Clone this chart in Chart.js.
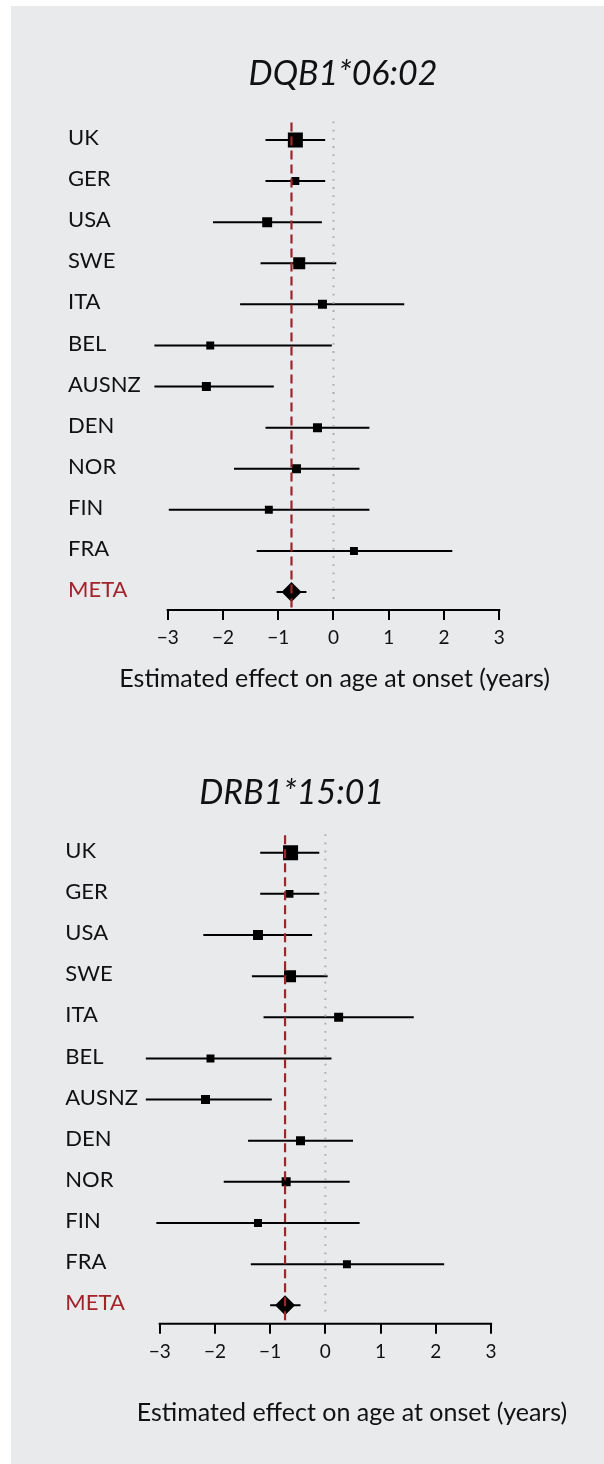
<!DOCTYPE html>
<html><head><meta charset="utf-8">
<script src="https://cdn.jsdelivr.net/npm/chart.js@4.4.1/dist/chart.umd.min.js"></script>
<style>
html,body{margin:0;padding:0;background:#fff;}
body{width:604px;height:1464px;position:relative;overflow:hidden;}
#panel{position:absolute;left:11px;top:6px;right:0;bottom:0;background:#e9eaec;}
.wrap{position:absolute;left:0;width:604px;height:732px;}
#w1{top:0}
#w2{top:732px}
canvas{display:block}
</style></head><body>
<div id="panel"></div>
<div class="wrap" id="w1"><canvas id="c1" width="604" height="732"></canvas></div>
<div class="wrap" id="w2"><canvas id="c2" width="604" height="732"></canvas></div>
<script>
// ---- data ----
const categories = ['UK','GER','USA','SWE','ITA','BEL','AUSNZ','DEN','NOR','FIN','FRA','META'];
const studyWeights = [1.00,0.28,0.44,0.64,0.36,0.28,0.36,0.36,0.36,0.28,0.28];
const tickValues = [-3,-2,-1,0,1,2,3];
const tickLabels = ['\u22123','\u22122','\u22121','0','1','2','3'];
const axisTitle = 'Estimated effect on age at onset (years)';

const dqbTitle = 'DQB1*06:02';
const dqbEst = [-0.69,-0.69,-1.20,-0.62,-0.20,-2.23,-2.30,-0.29,-0.67,-1.17,0.37,-0.76];
const dqbLo  = [-1.23,-1.23,-2.18,-1.32,-1.69,-3.24,-3.24,-1.23,-1.80,-2.98,-1.39,-1.03];
const dqbHi  = [-0.15,-0.15,-0.21,0.05,1.28,-0.03,-1.08,0.65,0.47,0.65,2.15,-0.49];

const drbTitle = 'DRB1*15:01';
const drbEst = [-0.63,-0.65,-1.22,-0.64,0.24,-2.08,-2.17,-0.45,-0.71,-1.22,0.39,-0.73];
const drbLo  = [-1.18,-1.18,-2.21,-1.33,-1.12,-3.25,-3.25,-1.40,-1.84,-3.06,-1.35,-1.00];
const drbHi  = [-0.11,-0.11,-0.24,0.04,1.60,0.11,-0.97,0.50,0.44,0.62,2.15,-0.45];

const RED = '#a2232a';
const INK = '#111111';
const FONT = 'Lato';

const decor = {
  id: 'decor',
  afterDatasetsDraw(chart, args, opts) {
    const {ctx, chartArea, scales: {x, y}} = chart;
    ctx.save();
    const x0 = x.getPixelForValue(0);
    ctx.strokeStyle = '#a9a9a9';
    ctx.lineWidth = 1.8;
    ctx.setLineDash([1.8, 6.4]);
    ctx.beginPath();
    ctx.moveTo(x0, chartArea.top);
    ctx.lineTo(x0, y.getPixelForValue(categories.length - 0.75));
    ctx.stroke();
    const xm = x.getPixelForValue(opts.meta);
    ctx.strokeStyle = RED;
    ctx.lineWidth = 2.2;
    ctx.setLineDash([9, 5]);
    ctx.beginPath();
    ctx.moveTo(xm, chartArea.top + 1);
    ctx.lineTo(xm, chartArea.bottom);
    ctx.stroke();
    ctx.restore();
  },
  afterDraw(chart, args, opts) {
    const {ctx, chartArea, scales: {x}} = chart;
    ctx.save();
    ctx.strokeStyle = '#000';
    ctx.lineWidth = 2;
    ctx.beginPath();
    ctx.moveTo(x.getPixelForValue(tickValues[0]) - 1, chartArea.bottom);
    ctx.lineTo(x.getPixelForValue(tickValues[tickValues.length - 1]) + 1, chartArea.bottom);
    ctx.stroke();
    ctx.fillStyle = INK;
    ctx.textAlign = 'center';
    ctx.textBaseline = 'alphabetic';
    ctx.font = 'italic 34px ' + FONT;
    ctx.fillText(opts.title, opts.titleX, opts.titleY);
    ctx.font = '25px ' + FONT;
    ctx.fillText(axisTitle, opts.axisX, opts.axisY);
    ctx.restore();
  }
};

function makeChart(id, g) {
  const n = categories.length;
  const ciData = [];
  g.lo.forEach((lo, i) => {
    ciData.push({x: lo, y: i}, {x: g.hi[i], y: i}, {x: g.hi[i], y: null});
  });
  const studyPts = g.est.slice(0, n - 1).map((v, i) => ({x: v, y: i}));
  const metaPt = [{x: g.est[n - 1], y: n - 1}];
  return new Chart(document.getElementById(id), {
    type: 'scatter',
    data: {
      datasets: [
        {
          data: studyPts,
          pointStyle: 'rect',
          pointRadius: (c) => 15 * Math.sqrt(studyWeights[c.dataIndex]) / Math.SQRT2,
          pointBackgroundColor: '#000',
          pointBorderWidth: 0
        },
        {
          data: metaPt,
          pointStyle: 'rectRot',
          pointRadius: 10,
          pointBackgroundColor: '#000',
          pointBorderWidth: 0
        },
        {
          data: ciData,
          showLine: true,
          spanGaps: false,
          borderColor: '#000',
          borderWidth: 2,
          borderCapStyle: 'butt',
          pointRadius: 0,
          tension: 0
        }
      ]
    },
    options: {
      responsive: false,
      animation: false,
      events: [],
      layout: {padding: {left: g.padL, right: g.padR, top: g.padT, bottom: g.padB}},
      plugins: {
        legend: {display: false},
        tooltip: {enabled: false},
        decor: {meta: g.est[n - 1], title: g.title, titleX: g.titleX, titleY: g.titleY,
                axisX: g.axisX, axisY: g.axisY}
      },
      scales: {
        x: {
          type: 'linear',
          min: g.xmin, max: g.xmax,
          afterBuildTicks: (s) => { s.ticks = tickValues.map(v => ({value: v})); },
          afterFit: (s) => { s.height = g.xH; },
          border: {display: false},
          grid: {display: true, drawOnChartArea: false, drawTicks: true, tickLength: 10,
                 tickWidth: 2, tickColor: '#000', color: '#000', lineWidth: 2},
          ticks: {
            callback: (v) => tickLabels[tickValues.indexOf(v)],
            color: INK, padding: 6.5, maxRotation: 0, autoSkip: false,
            font: {family: FONT, size: 19}
          },
          title: {display: false}
        },
        y: {
          type: 'linear',
          reverse: true,
          min: -0.45, max: g.ymax,
          afterBuildTicks: (s) => { s.ticks = categories.map((c, i) => ({value: i})); },
          afterFit: (s) => { s.width = g.yW; },
          border: {display: false},
          grid: {display: false},
          ticks: {
            callback: (v) => categories[v],
            color: (c) => (c.index === n - 1 ? RED : INK),
            crossAlign: 'far', padding: 0, autoSkip: false, labelOffset: -2,
            font: {family: FONT, size: 22}
          }
        }
      }
    },
    plugins: [decor]
  });
}

function draw() {
  makeChart('c1', {
    est: dqbEst, lo: dqbLo, hi: dqbHi, title: dqbTitle, titleX: 343, titleY: 85,
    axisX: 334.6, axisY: 686.7,
    xmin: -3.3, xmax: 3.34, ymax: 11.438,
    padL: 68, yW: 83.1, padR: 85.9, padT: 121.5, padB: 62, xH: 60
  });
  makeChart('c2', {
    est: drbEst, lo: drbLo, hi: drbHi, title: drbTitle, titleX: 291.7, titleY: 72,
    axisX: 352, axisY: 689,
    xmin: -3.3, xmax: 4.30, ymax: 11.447,
    padL: 65.3, yW: 77.8, padR: 41.1, padT: 102.2, padB: 80.3, xH: 60
  });
}

Promise.all([
  document.fonts.load('22px ' + FONT),
  document.fonts.load('italic 34px ' + FONT),
  document.fonts.load('25px ' + FONT)
]).then(draw, draw);
</script></body></html>
